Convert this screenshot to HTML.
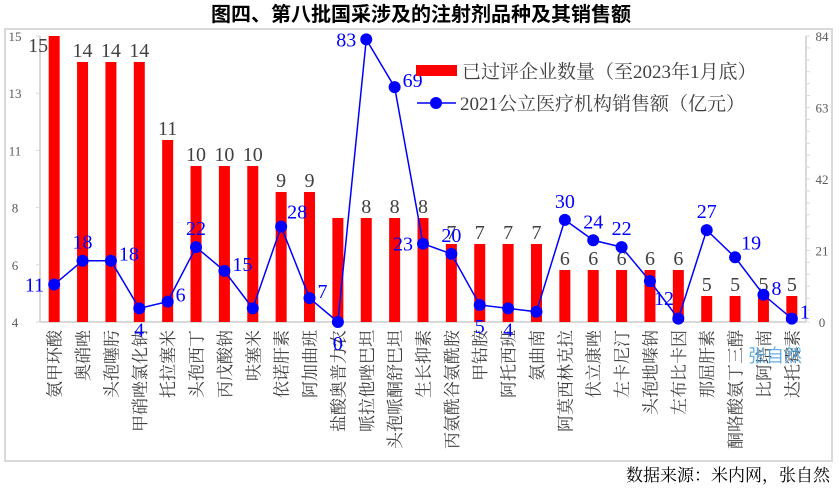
<!DOCTYPE html>
<html><head><meta charset="utf-8">
<style>
html,body{margin:0;padding:0;background:#fff;}
svg{display:block;font-family:"Liberation Serif","Noto Serif CJK SC",serif;}
</style></head>
<body>
<svg id="chart" width="839" height="491" viewBox="0 0 839 491" xmlns="http://www.w3.org/2000/svg">
<text x="421" y="21" text-anchor="middle" font-size="20" font-weight="bold" font-family="'Liberation Sans','Noto Sans CJK SC',sans-serif" fill="#000">图四、第八批国采涉及的注射剂品种及其销售额</text>
<rect x="5" y="29" width="827" height="432" fill="none" stroke="#d9d9d9" stroke-width="2"/>
<g id="plot"></g>
<text x="748" y="362" font-size="18" fill="#4aa3df" opacity="0.85" font-family="'Liberation Sans','Noto Sans CJK SC',sans-serif">张自然</text>
<text x="830" y="481" text-anchor="end" font-size="17" fill="#000">数据来源：米内网，张自然</text>
<g>
<rect x="416" y="65" width="41" height="11" fill="#ff0000"/>
<text x="462" y="78" font-size="19" fill="#404040">已过评企业数量（至2023年1月底）</text>
<line x1="417" y1="103" x2="456" y2="103" stroke="#0000ff" stroke-width="1.5"/>
<circle cx="436" cy="103" r="6" fill="#0000ff"/>
<text x="460" y="110" font-size="19" fill="#404040">2021公立医疗机构销售额（亿元）</text>
</g>
</svg>
<script>
const categories = ["氨甲环酸","奥硝唑","头孢噻肟","甲硝唑氯化钠","托拉塞米","头孢西丁","丙戊酸钠","呋塞米","依诺肝素","阿加曲班","盐酸奥普力农","哌拉他唑巴坦","头孢哌酮舒巴坦","生长抑素","丙氨酰谷氨酰胺","甲钴胺","阿托西班","氨曲南","阿莫西林克拉","伏立康唑","左卡尼汀","头孢地嗪钠","左布比卡因","那屈肝素","酮咯酸氨丁三醇","比阿培南","达托霉素"];
const companyCounts = [15,14,14,14,11,10,10,10,9,9,8,8,8,8,7,7,7,7,6,6,6,6,6,5,5,5,5];
const sales = [11,18,18,4,6,22,15,4,28,7,0,83,69,23,20,5,4,3,30,24,22,12,1,27,19,8,1];
const leftTicks = [4,6,8,11,13,15];
const rightTicks = [0,21,42,63,84];
const showBarLabel = [1,1,1,1,1,1,1,1,1,1,0,1,1,1,1,1,1,1,1,1,1,1,1,1,1,1,1];
const saleLabelSide = ["l","t","r","b","r","t","r","","tr","r","b","l","r","l","t","b","b","","t","t","t","br","","t","tr","r","r"];

const NS="http://www.w3.org/2000/svg";
const plot=document.getElementById('plot');
const X0=40,X1=806,Y0=322,Y1=36;
const LMIN=4,LMAX=15,RMAX=84;
const step=(X1-X0)/categories.length;
const xc=i=>X0+step*(i+0.5);
const yL=v=>Y0-(v-LMIN)/(LMAX-LMIN)*(Y0-Y1);
const yR=v=>Y0-v/RMAX*(Y0-Y1);
function mk(tag,attrs,parent){const e=document.createElementNS(NS,tag);for(const k in attrs)e.setAttribute(k,attrs[k]);(parent||plot).appendChild(e);return e;}

let e=mk('line',{x1:X0,y1:Y1,x2:X0,y2:Y0,stroke:'#d9d9d9','stroke-width':2});


e=mk('line',{x1:X1,y1:Y1,x2:X1,y2:Y0,stroke:'#d9d9d9','stroke-width':2});


e=mk('line',{x1:X0,y1:Y0,x2:X1,y2:Y0,stroke:'#d9d9d9','stroke-width':2});



leftTicks.forEach((t,k)=>{
  const y=Y0-k/(leftTicks.length-1)*(Y0-Y1);
  const tx=mk('text',{x:15,y:y+5,'text-anchor':'middle','font-size':13,fill:'#595959'});
  tx.textContent=t;
  
  
  mk('line',{x1:X0-4,y1:y,x2:X0,y2:y,stroke:'#d9d9d9','stroke-width':1});
});
rightTicks.forEach(t=>{
  const y=yR(t);
  const tx=mk('text',{x:822,y:y+5,'text-anchor':'middle','font-size':13,fill:'#595959'});
  tx.textContent=t;
  
  
});
for(let m=0;m<=84;m+=3.5){const y=yR(m);mk('line',{x1:X1,y1:y,x2:X1+4,y2:y,stroke:'#d9d9d9','stroke-width':1});}

companyCounts.forEach((v,i)=>{
  const b=mk('rect',{x:xc(i)-5.5,y:yL(v),width:11,height:Y0-yL(v),fill:'#ff0000'});
  
  
  if(showBarLabel[i]){
    const top=yL(v)-5;
    const t=mk('text',{x:i===0?xc(i)-16:xc(i),y:Math.max(top,52),'text-anchor':'middle','font-size':20,fill:'#404040'});
    t.textContent=v;
    
    
  }
});

categories.forEach((c,i)=>{
  const t=mk('text',{x:0,y:0,'text-anchor':'end','font-size':17,fill:'#404040',transform:`translate(${xc(i)+6.5},330) rotate(-90)`});
  t.textContent=c;
  
  
});

const pl=mk('polyline',{points:sales.map((v,i)=>xc(i)+','+yR(v)).join(' '),fill:'none',stroke:'#0000ff','stroke-width':1.5});


sales.forEach((v,i)=>{
  const c=mk('circle',{cx:xc(i),cy:yR(v),r:6,fill:'#0000ff'});
  
  
  const s=saleLabelSide[i];
  if(!s)return;
  let x=xc(i),y=yR(v),a='middle';
  if(s==='l'){x-=10;y+=7;a='end';}
  else if(s==='r'){x+=8;a='start';}
  else if(s==='t'){y-=12;}
  else if(s==='b'){y+=28;}
  else if(s==='tr'){x+=6;y-=8;a='start';}
  else if(s==='br'){x+=4;y+=24;a='start';}
  const t=mk('text',{x:x,y:y,'text-anchor':a,'font-size':20,fill:'#0000ff'});
  t.textContent=v;
  
  
});
</script>
</body></html>
